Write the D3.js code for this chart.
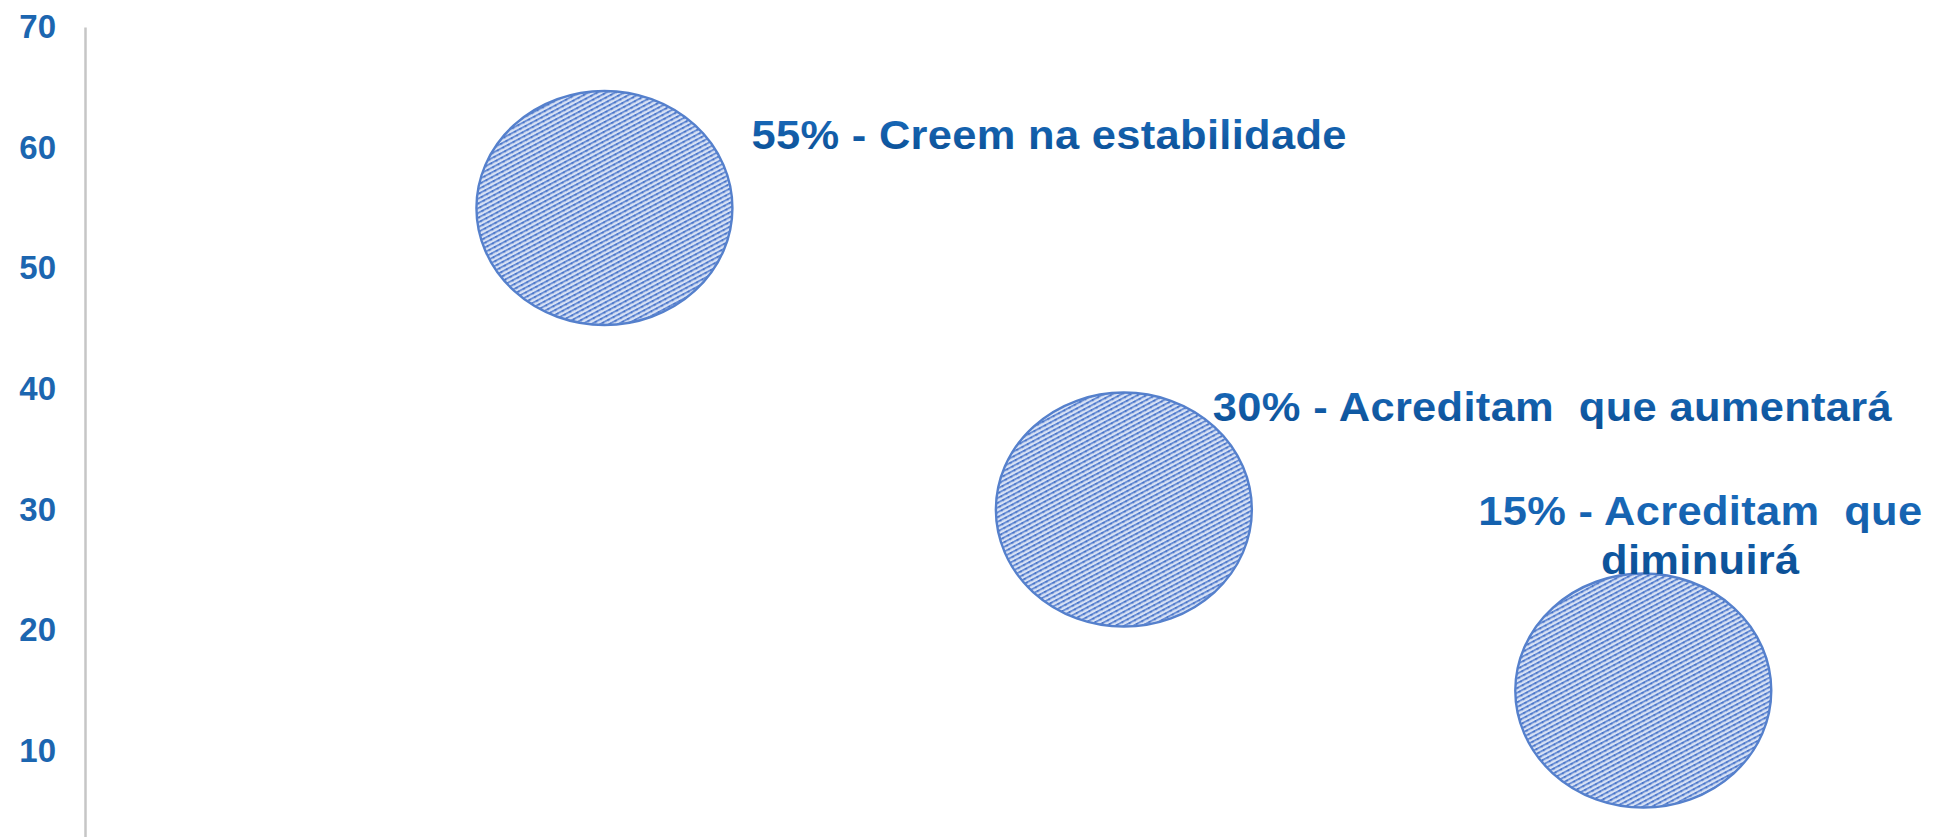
<!DOCTYPE html>
<html lang="pt">
<head>
<meta charset="utf-8">
<script src="https://d3js.org/d3.v7.min.js"></script>
<style>
  body { margin: 0; background: #fff; }
  text { font-family: "Liberation Sans", Arial, sans-serif; }
</style>
</head>
<body>
<div id="chart"></div>
<script>
// data
const categories = ["Creem na estabilidade", "Acreditam que aumentará", "Acreditam que diminuirá"];
const xValues = [1, 2, 3];
const percentValues = [55, 30, 15];
const bubbleSizes = [10, 10, 10];
const yTicks = [10, 20, 30, 40, 50, 60, 70];
const labelLines = [
  ["55% - Creem na estabilidade"],
  ["30% - Acreditam  que aumentará"],
  ["15% - Acreditam  que", "diminuirá"]
];

const width = 1934, height = 837;

const svg = d3.select("#chart")
  .append("svg")
    .attr("width", width)
    .attr("height", height);

// pattern for bubble fill
const defs = svg.append("defs");
const pat = defs.append("pattern")
    .attr("id", "hatch")
    .attr("patternUnits", "userSpaceOnUse")
    .attr("width", 6)
    .attr("height", 4.2)
    .attr("patternTransform", "rotate(-28)");
pat.append("rect").attr("width", 6).attr("height", 4.2).attr("fill", "#d8e2f5");
pat.append("rect").attr("y", 0).attr("width", 6).attr("height", 1.9).attr("fill", "#6a8fd6");
pat.append("circle").attr("cx", 3).attr("cy", 1).attr("r", 1.2).attr("fill", "#4a75c8");

const grad = defs.append("linearGradient")
    .attr("id", "txt").attr("x1", 0).attr("y1", 0).attr("x2", 0).attr("y2", 1);
grad.append("stop").attr("offset", "0%").attr("stop-color", "#1a6cbd");
grad.append("stop").attr("offset", "100%").attr("stop-color", "#0a4e93");

const blur = defs.append("filter").attr("id", "soft");
blur.append("feGaussianBlur").attr("stdDeviation", 0.6);

// scales
const x = d3.scaleLinear().domain([0, 3.5]).range([85, 1903]);
const y = d3.scaleLinear().domain([0, 70]).range([871.5, 27]);
const r = d3.scaleSqrt().domain([0, 10]).range([0, 117]);
const stretch = 1.094;

// y axis
const yAxis = svg.append("g")
  .attr("transform", `translate(${x(0)},0)`)
  .call(d3.axisLeft(y).tickValues(yTicks).tickSize(0).tickPadding(29));
yAxis.select(".domain")
  .attr("stroke", "#c6c6c6")
  .attr("stroke-width", 2.5);
yAxis.selectAll("text")
  .attr("fill", "#1c66b0")
  .style("font-size", "33px")
  .style("font-weight", "bold")
  .style("font-family", "'Liberation Sans', Arial, sans-serif");

const data = percentValues.map((v, i) => ({
  x: xValues[i], y: v, size: bubbleSizes[i], name: categories[i], lines: labelLines[i]
}));

// bubbles
svg.selectAll("ellipse.bubble")
  .data(data)
  .join("ellipse")
    .attr("class", "bubble")
    .attr("cx", d => x(d.x))
    .attr("cy", d => y(d.y))
    .attr("rx", d => r(d.size) * stretch)
    .attr("ry", d => r(d.size))
    .attr("fill", "url(#hatch)")
    .attr("stroke", "#5580cc")
    .attr("stroke-width", 2.4)
    .attr("filter", "url(#soft)");

// labels (offsets from the bubble centre)
const labelLayout = [
  {dx: 147, dy: -59, anchor: "start"},
  {dx: 89, dy: -89, anchor: "start"},
  {dx: 57, dy: -166, anchor: "middle"}
];

const labels = svg.selectAll("g.label")
  .data(data)
  .join("g")
    .attr("class", "label")
    .attr("transform", (d, i) =>
      `translate(${x(d.x) + labelLayout[i].dx},${y(d.y) + labelLayout[i].dy}) scale(1.06,1)`);

labels.each(function(d, i) {
  const t = d3.select(this).append("text")
    .attr("text-anchor", labelLayout[i].anchor)
    .attr("fill", "url(#txt)")
    .style("font-size", "41px")
    .style("font-weight", "bold")
    .style("letter-spacing", "0.3px")
    .style("white-space", "pre");
  d.lines.forEach((line, j) => {
    t.append("tspan")
      .attr("x", 0)
      .attr("dy", j === 0 ? 0 : 49)
      .text(line);
  });
});
</script>
</body>
</html>
